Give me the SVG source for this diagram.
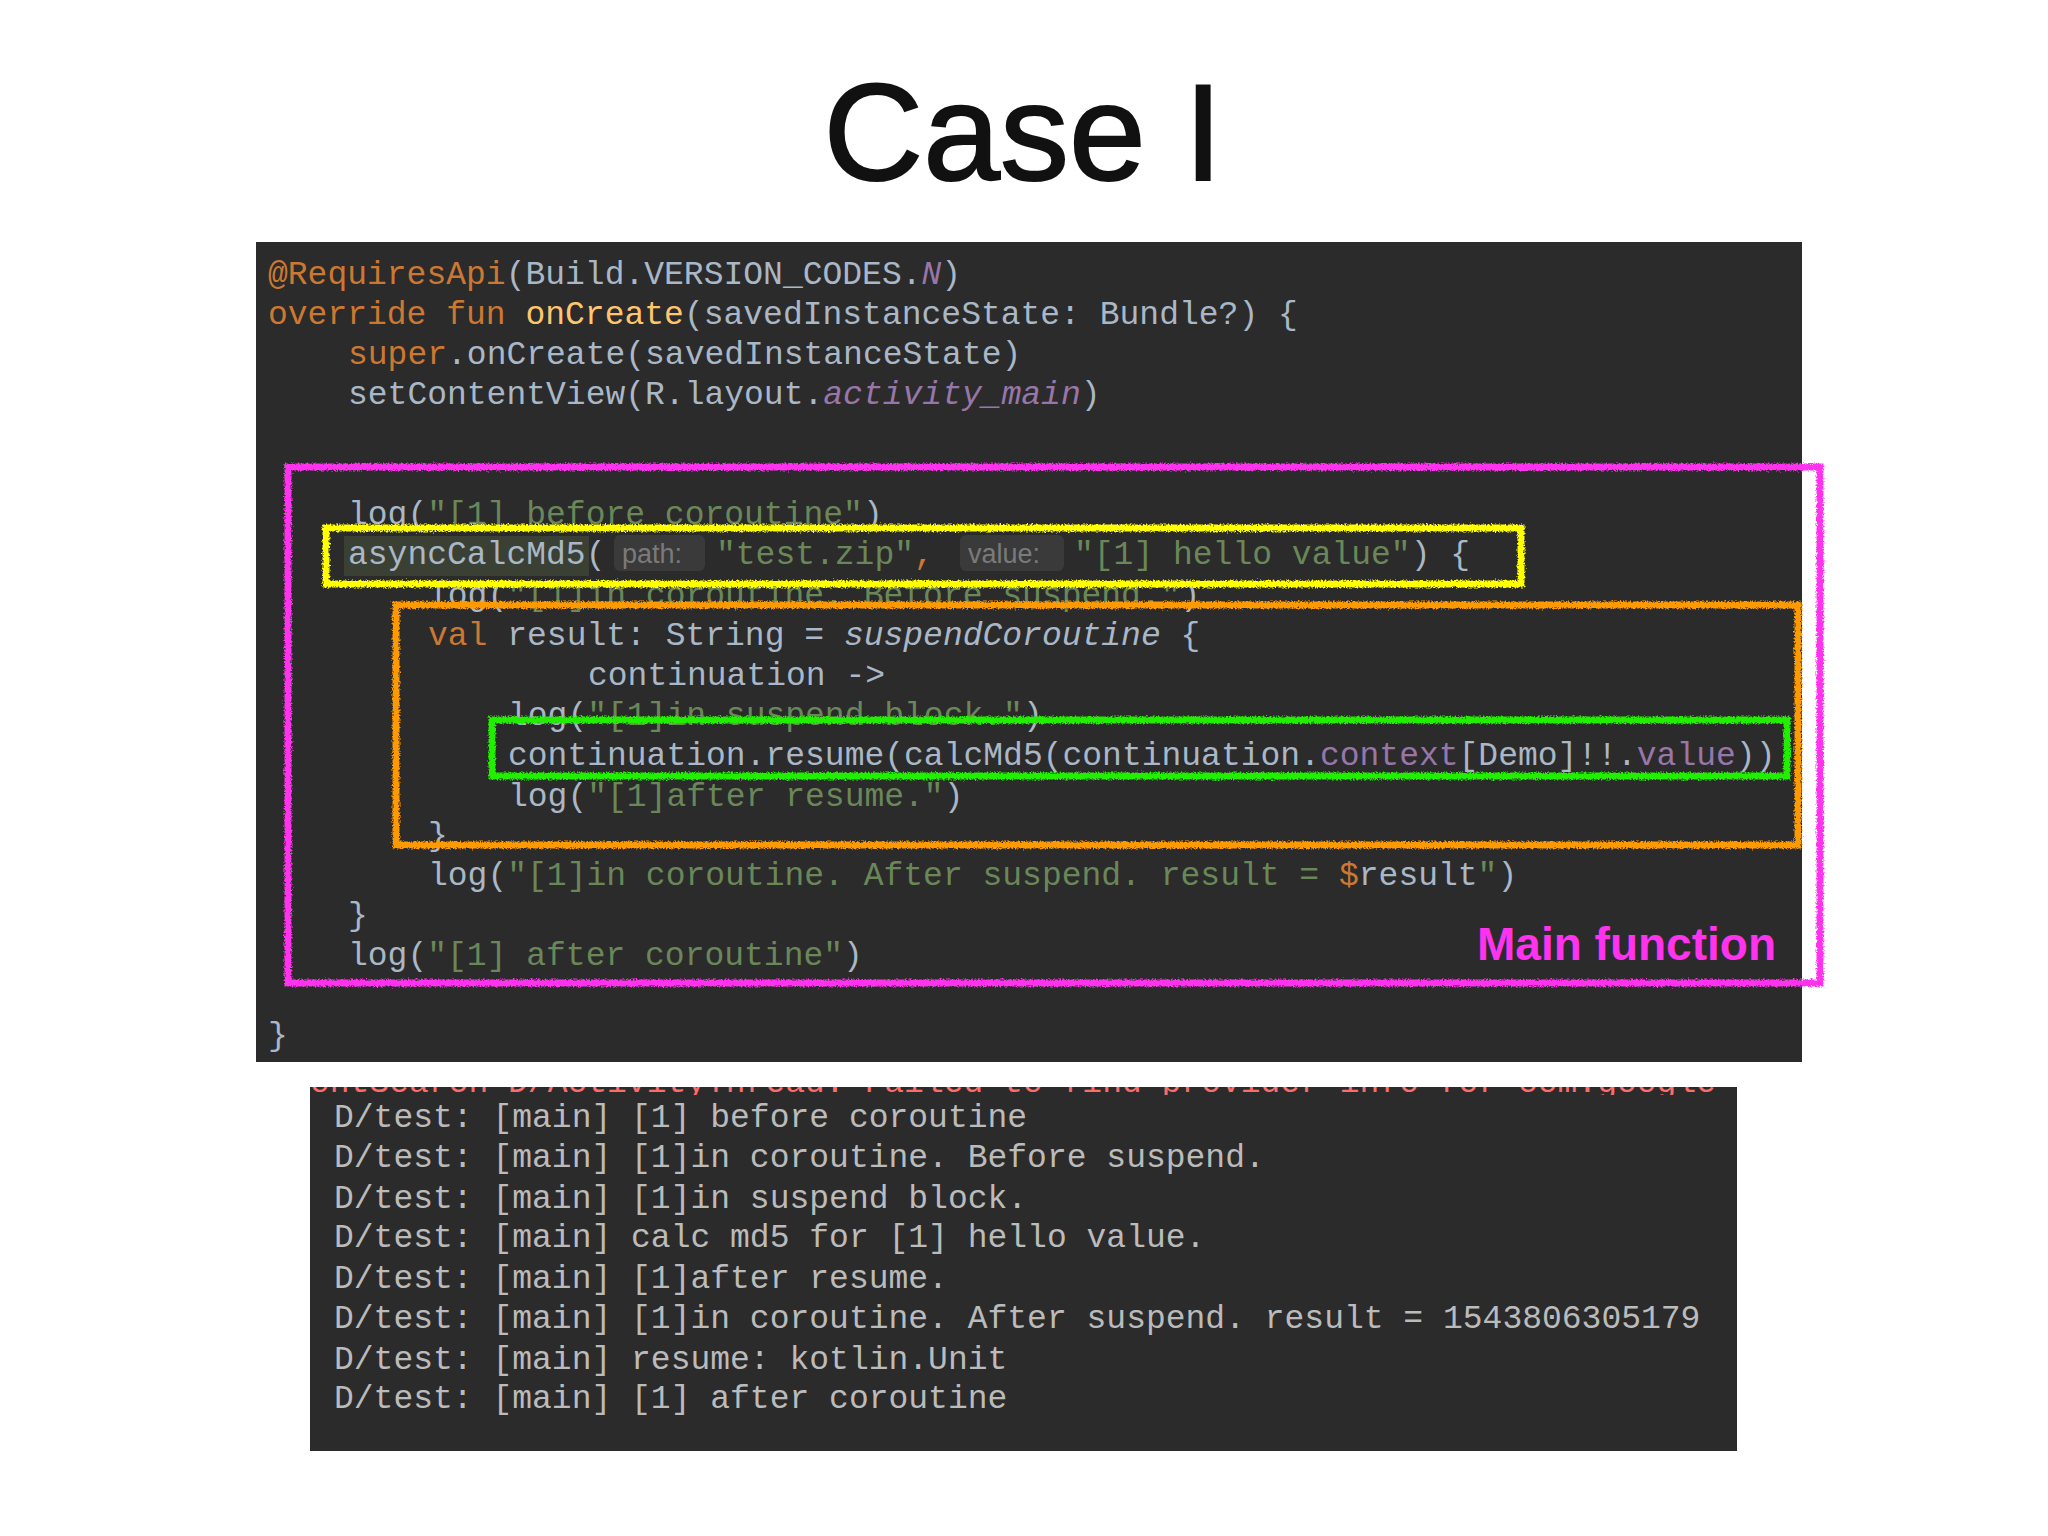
<svg xmlns="http://www.w3.org/2000/svg" width="2048" height="1536" viewBox="0 0 2048 1536">
<defs>
<style>
.c{font-family:"Liberation Mono","DejaVu Sans Mono",monospace;font-size:33px;fill:#a9b7c6;white-space:pre}
.k{fill:#cc7832}.f{fill:#ffc66d}.s{fill:#6a8759}.p{fill:#9876aa}.i{font-style:italic}
.h{font-family:"Liberation Sans",Arial,sans-serif;font-size:27px;fill:#7a7a7a}
.log{font-family:"Liberation Mono","DejaVu Sans Mono",monospace;font-size:33px;fill:#bbbbbb;white-space:pre}
.box{fill:none;stroke-width:7;filter:url(#rough)}
</style>
<filter id="rough" x="-2%" y="-10%" width="104%" height="120%">
<feTurbulence type="fractalNoise" baseFrequency="0.6" numOctaves="2" seed="3"/>
<feDisplacementMap in="SourceGraphic" scale="5"/>
</filter>
<clipPath id="logclip"><rect x="310" y="1087" width="1427" height="8"/></clipPath>
</defs>
<rect width="2048" height="1536" fill="#ffffff"/>
<text x="1023" y="180" text-anchor="middle" font-family="Liberation Sans,Arial,sans-serif" font-size="138" fill="#111" stroke="#111" stroke-width="2">Case I</text>

<g id="code">
<rect x="256" y="242" width="1546" height="820" fill="#2b2b2b"/>
<rect x="344" y="536" width="245" height="40" fill="#3b4034"/>
<rect x="614" y="535" width="91" height="36" rx="6" fill="#3a3a3a"/>
<rect x="960" y="535" width="104" height="36" rx="6" fill="#3a3a3a"/>
<text class="c" x="268" y="284"><tspan class="k">@RequiresApi</tspan>(Build.VERSION_CODES.<tspan class="p i">N</tspan>)</text>
<text class="c" x="268" y="324"><tspan class="k">override fun </tspan><tspan class="f">onCreate</tspan>(savedInstanceState: Bundle?) {</text>
<text class="c" x="348" y="364"><tspan class="k">super</tspan>.onCreate(savedInstanceState)</text>
<text class="c" x="348" y="404">setContentView(R.layout.<tspan class="p i">activity_main</tspan>)</text>
<text class="c" x="348" y="524">log(<tspan class="s">"[1] before coroutine"</tspan>)</text>
<text class="c" x="348" y="564">asyncCalcMd5(</text>
<text class="h" x="622" y="563">path:</text>
<text class="c" x="716" y="564"><tspan class="s">"test.zip"</tspan><tspan class="k">,</tspan></text>
<text class="h" x="968" y="563">value:</text>
<text class="c" x="1074" y="564"><tspan class="s">"[1] hello value"</tspan>) {</text>
<text class="c" x="428" y="605">log(<tspan class="s">"[1]in coroutine. Before suspend."</tspan>)</text>
<text class="c" x="428" y="645"><tspan class="k">val </tspan>result: String = <tspan class="i">suspendCoroutine</tspan> {</text>
<text class="c" x="588" y="685">continuation -&gt;</text>
<text class="c" x="508" y="725">log(<tspan class="s">"[1]in suspend block."</tspan>)</text>
<text class="c" x="508" y="765">continuation.resume(calcMd5(continuation.<tspan class="p">context</tspan>[Demo]!!.<tspan class="p">value</tspan>))</text>
<text class="c" x="508" y="806">log(<tspan class="s">"[1]after resume."</tspan>)</text>
<text class="c" x="428" y="845">}</text>
<text class="c" x="428" y="885">log(<tspan class="s">"[1]in coroutine. After suspend. result = </tspan><tspan class="k">$</tspan>result<tspan class="s">"</tspan>)</text>
<text class="c" x="348" y="925">}</text>
<text class="c" x="348" y="965">log(<tspan class="s">"[1] after coroutine"</tspan>)</text>
<text class="c" x="268" y="1045">}</text>
</g>

<g id="main-function">
<rect class="box" x="288" y="467" width="1532" height="516" stroke="#ff33ee"/>
<text x="1776" y="960" text-anchor="end" font-family="Liberation Sans,Arial,sans-serif" font-weight="bold" font-size="46" fill="#ff33ee">Main function</text>
</g>
<g id="async-call"><rect class="box" x="326" y="528" width="1195" height="56" stroke="#ffff00"/></g>
<g id="suspend-block"><rect class="box" x="396" y="605" width="1402" height="240" stroke="#ff9900"/></g>
<g id="resume-call"><rect class="box" x="492" y="720" width="1295" height="56" stroke="#22ee00"/></g>

<g id="log">
<rect x="310" y="1087" width="1427" height="364" fill="#2b2b2b"/>
<g clip-path="url(#logclip)">
<text class="log" x="310" y="1092" style="fill:#ff6b68">ontSearch D/ActivityThread: Failed to find provider info for com.google</text>
</g>
<text class="log" x="334" y="1127">D/test: [main] [1] before coroutine</text>
<text class="log" x="334" y="1167">D/test: [main] [1]in coroutine. Before suspend.</text>
<text class="log" x="334" y="1208">D/test: [main] [1]in suspend block.</text>
<text class="log" x="334" y="1247">D/test: [main] calc md5 for [1] hello value.</text>
<text class="log" x="334" y="1288">D/test: [main] [1]after resume.</text>
<text class="log" x="334" y="1328">D/test: [main] [1]in coroutine. After suspend. result = 1543806305179</text>
<text class="log" x="334" y="1369">D/test: [main] resume: kotlin.Unit</text>
<text class="log" x="334" y="1408">D/test: [main] [1] after coroutine</text>
</g>
<g id="connectors"/>
</svg>
